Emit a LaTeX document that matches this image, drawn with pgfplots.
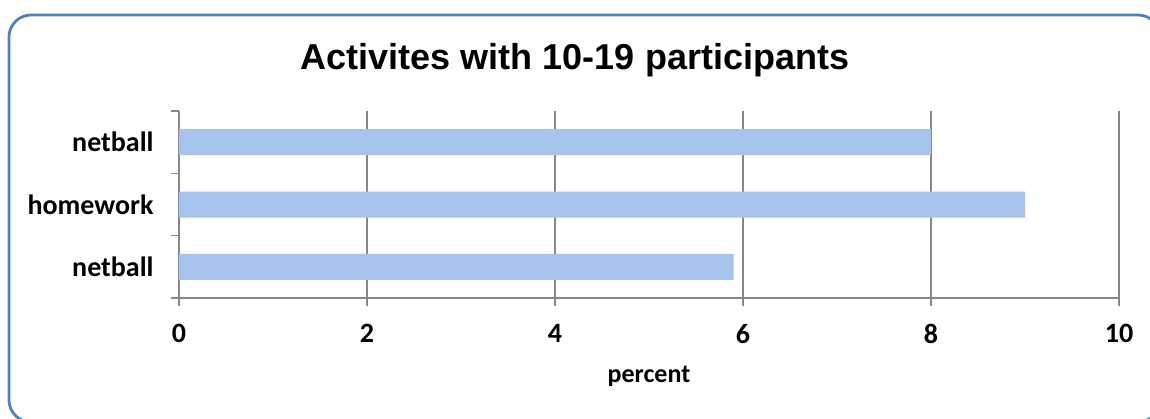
\documentclass[border=0pt]{standalone}
\usepackage{fontspec}
\setmainfont{Carlito}
\newfontfamily\titlefont{Liberation Sans}
\usepackage{pgfplots}
\pgfplotsset{compat=1.18}

\definecolor{framecol}{HTML}{4F81BD}
\definecolor{barcol}{HTML}{A5C3EB}
\definecolor{gridcol}{HTML}{878787}

\begin{document}
\begin{tikzpicture}
  \useasboundingbox (0pt,0pt) rectangle (1150pt,418pt);
  % rounded chart frame, partly running off the page
  \begin{scope}
    \clip (0pt,0pt) rectangle (1150pt,418pt);
    \draw[framecol, line width=2.8pt, rounded corners=22pt] (9pt,-4pt) rectangle (1160pt,403pt);
  \end{scope}

  % title
  \node[anchor=base, font=\titlefont\bfseries\fontsize{36}{36}\selectfont]
    at (575pt,348pt) {Activites with 10-19 participants};

  \begin{axis}[
    at={(179pt,120pt)}, anchor=south west,
    scale only axis, width=940pt, height=187pt,
    xbar, bar width=26pt,
    xmin=0, xmax=10, ymin=-0.5, ymax=2.5,
    xtick={0,2,4,6,8,10},
    ytick={-0.5,0.5,1.5,2.5},
    yticklabels={netball,homework,netball},
    y tick label as interval,
    axis lines*=left,
    axis line style={gridcol, line width=1.4pt},
    xmajorgrids,
    major grid style={gridcol, line width=1.4pt},
    tick style={gridcol, line width=1.4pt},
    tick align=outside,
    major tick length=8pt,
    /pgf/number format/assume math mode=true,
    ticklabel style={font=\bfseries\fontsize{28}{28}\selectfont},
    xticklabel shift=15pt,
    yticklabel shift=14pt,
    xlabel={percent},
    xlabel style={font=\bfseries\fontsize{26}{26}\selectfont, anchor=base,
                  at={(axis description cs:0.5,0)}, yshift=-84pt},
  ]
    \addplot[fill=barcol, draw=none] coordinates {(5.9,0) (9,1) (8,2)};
  \end{axis}
\end{tikzpicture}
\end{document}
